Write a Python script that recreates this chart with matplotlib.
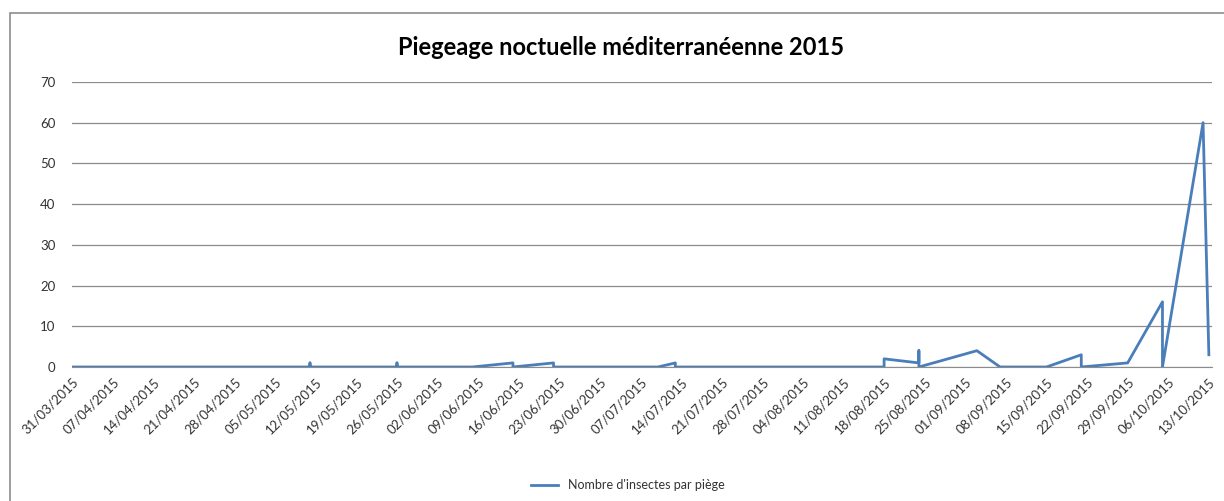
import numpy as np
import pandas as pd
import matplotlib
matplotlib.use("Agg")
import matplotlib.pyplot as plt
import matplotlib.dates as mdates
from matplotlib.patches import Rectangle

# relevés (date, nombre d'insectes par piège)
dates = ["31/03/2015", "11/05/2015", "11/05/2015", "11/05/2015",
         "26/05/2015", "26/05/2015", "26/05/2015", "08/06/2015",
         "15/06/2015", "15/06/2015", "22/06/2015", "22/06/2015",
         "10/07/2015", "13/07/2015", "13/07/2015", "18/08/2015",
         "18/08/2015", "24/08/2015", "24/08/2015", "24/08/2015",
         "03/09/2015", "07/09/2015", "15/09/2015", "21/09/2015",
         "21/09/2015", "29/09/2015", "05/10/2015", "05/10/2015",
         "12/10/2015", "13/10/2015"]
values = [0, 0, 1, 0,
          0, 1, 0, 0,
          1, 0, 1, 0,
          0, 1, 0, 0,
          2, 1, 4, 0,
          4, 0, 0, 3,
          0, 1, 16, 0,
          60, 3]
series_label = "Nombre d'insectes par piège"
title = "Piegeage noctuelle méditerranéenne 2015"

plt.rcParams["font.family"] = ["Lato", "DejaVu Sans"]

x = pd.to_datetime(dates, format="%d/%m/%Y")
ticks = pd.date_range("2015-03-31", "2015-10-13", freq="7D")

fig = plt.figure(figsize=(12.24, 5.01), dpi=100)
ax = fig.add_axes([0.059, 0.2675, 0.931, 0.569])

ax.plot(x, values, color="#4a7ebb", lw=2.0, label=series_label)

ax.set_xlim(ticks[0], pd.Timestamp("2015-10-13 12:00"))
ax.set_ylim(0, 70)
ax.set_yticks(range(0, 71, 10))
ax.set_xticks(ticks)
ax.xaxis.set_major_formatter(mdates.DateFormatter("%d/%m/%Y"))
plt.setp(ax.get_xticklabels(), rotation=45, ha="right", rotation_mode="anchor")
ax.tick_params(length=0, labelsize=9.5, colors="#333333")
ax.tick_params(axis="y", pad=12)
ax.tick_params(axis="x", pad=6)
ax.grid(axis="y", color="#8c8c8c", lw=0.9)
ax.set_axisbelow(True)
for s in ["top", "right", "left"]:
    ax.spines[s].set_visible(False)
ax.spines["bottom"].set_color("#8c8c8c")

fig.text(0.507, 0.905, title, ha="center", va="center",
         fontsize=17, fontweight="bold")

leg = fig.legend(loc="center", bbox_to_anchor=(0.513, 0.032), frameon=False,
                 fontsize=9, handlelength=2.2)
for t in leg.get_texts():
    t.set_color("#333333")

# cadre du graphique
fig.patches.append(Rectangle((10 / 1224, -0.05), 1.1, 1.05 - 13 / 501,
                             transform=fig.transFigure, fill=False,
                             edgecolor="#8c8c8c", lw=1.2))

fig.savefig("out.png", dpi=100)
